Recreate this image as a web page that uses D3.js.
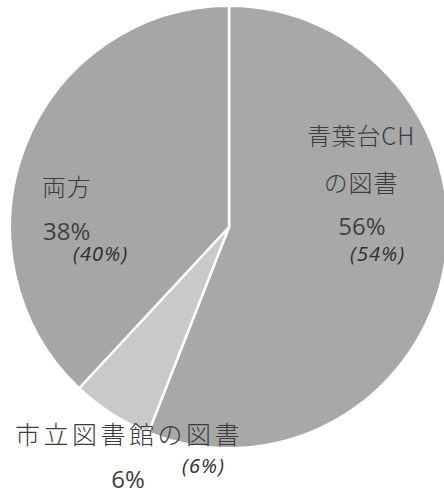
<!DOCTYPE html>
<html>
<head>
<meta charset="utf-8">
<script src="https://cdn.jsdelivr.net/npm/d3@7"></script>
<style>
  html, body { margin: 0; padding: 0; background: #fff; }
  svg { display: block; }
  text { font-family: "Noto Sans CJK JP", "Noto Sans", sans-serif; }
  text.num { font-family: "Open Sans", "Noto Sans", sans-serif; }
</style>
</head>
<body>
<svg id="chart"></svg>
<script>
// slices, clockwise from 12 o'clock
const categories = ['青葉台CHの図書', '市立図書館の図書', '両方'];
const labelLines = [['青葉台CH', 'の図書'], ['市立図書館の図書'], ['両方']];
const values = [56, 6, 38];
const prevValues = [54, 6, 40]; // figures in brackets

const width = 444;
const height = 495;
const cx = 229;
const cy = 227;
const radius = 219;
const sliceColors = ['#a8a8a8', '#c9c9c9', '#a6a6a6'];

// hand placed label anchors (like the original chart)
const labelLayout = [
  { name: [361, 145], anchor: 'middle', pct: [362, 235], pctAnchor: 'middle', prev: [350, 261] },
  { name: [15, 444], anchor: 'start', pct: [128, 488], pctAnchor: 'middle', prev: [182, 473] },
  { name: [42, 196], anchor: 'start', pct: [43, 240], pctAnchor: 'start', prev: [73, 261] },
];

const svg = d3.select('#chart')
  .attr('width', width)
  .attr('height', height);

const pie = d3.pie()
  .sort(null)
  .value((d) => d);

const arc = d3.arc()
  .innerRadius(0)
  .outerRadius(radius);

const g = svg.append('g')
  .attr('transform', `translate(${cx}, ${cy}) scale(1, 1.01)`);

g.selectAll('path')
  .data(pie(values))
  .join('path')
  .attr('d', arc)
  .attr('fill', (_d, i) => sliceColors[i])
  .attr('stroke', '#fff')
  .attr('stroke-width', 2.5)
  .attr('stroke-linejoin', 'round');

const labels = svg.append('g');

categories.forEach((c, i) => {
  const lay = labelLayout[i];
  labelLines[i].forEach((t, j) => {
    labels.append('text')
      .attr('x', lay.name[0])
      .attr('y', lay.name[1] + j * 47)
      .attr('text-anchor', lay.anchor)
      .attr('font-size', i === 1 ? 25 : 24)
      .attr('letter-spacing', i === 1 ? 3.5 : 0.8)
      .attr('font-weight', 300)
      .attr('fill', '#3c3c3c')
      .text(t);
  });

  labels.append('text')
    .attr('class', 'num')
    .attr('x', lay.pct[0])
    .attr('y', lay.pct[1])
    .attr('text-anchor', lay.pctAnchor)
    .attr('font-size', 24)
    .attr('font-weight', 400)
    .attr('fill', '#414141')
    .text(`${values[i]}%`);

  labels.append('text')
    .attr('class', 'num')
    .attr('x', lay.prev[0])
    .attr('y', lay.prev[1])
    .attr('font-size', 20)
    .attr('letter-spacing', 1.2)
    .attr('font-style', 'italic')
    .attr('font-weight', 500)
    .attr('fill', '#2e2e2e')
    .text(`(${prevValues[i]}%)`);
});
</script>
</body>
</html>
